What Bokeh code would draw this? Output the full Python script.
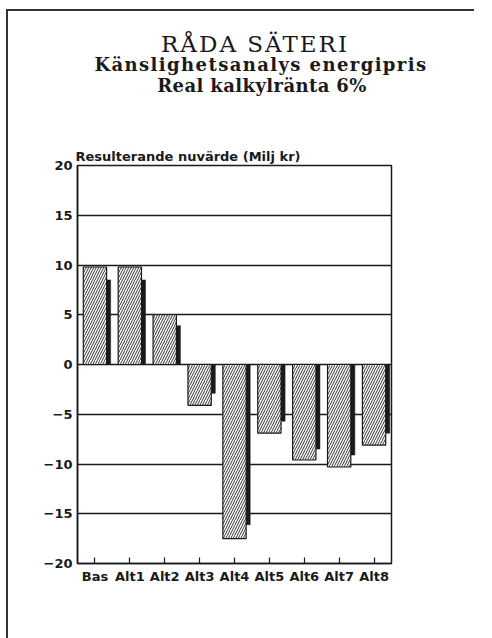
from bokeh.plotting import figure
from bokeh.models import Range1d, FixedTicker, ColumnDataSource, InlineStyleSheet, Div
from bokeh.layouts import column
from bokeh.transform import dodge
from bokeh.embed import file_html
from bokeh.resources import INLINE

# ---- data ----
categories = ["Bas", "Alt1", "Alt2", "Alt3", "Alt4", "Alt5", "Alt6", "Alt7", "Alt8"]
hatched_values = [9.8, 9.8, 5.0, -4.1, -17.5, -6.9, -9.6, -10.3, -8.1]
dark_values = [8.5, 8.5, 3.9, -2.9, -16.1, -5.7, -8.5, -9.1, -6.9]
y_ticks = [-20, -15, -10, -5, 0, 5, 10, 15, 20]

title_text = "RÅDA SÄTERI"
subtitle1 = "Känslighetsanalys energipris"
subtitle2 = "Real kalkylränta 6%"
axis_label = "Resulterande nuvärde (Milj kr)"

idx = list(range(len(categories)))
src = ColumnDataSource(dict(x=idx, h=hatched_values, d=dark_values))

INK = "#1a1a1a"

# ---- header (titles) ----
def line(text, left, top, size, family, weight, spacing, width=400):
    return (f'<div style="position:absolute;left:{left}px;top:{top}px;width:{width}px;'
            f'text-align:center;font-family:\'{family}\';font-size:{size}px;'
            f'font-weight:{weight};line-height:{size}px;letter-spacing:{spacing}px;'
            f'color:{INK};white-space:nowrap;">{text}</div>')

html = ('<div style="position:relative;width:492px;height:110px;">'
        + line(title_text, 55, 32.5, 23, "DejaVu Serif", "normal", 2.0)
        + line(subtitle1, 61, 56, 18, "DejaVu Serif", "bold", 1.4)
        + line(subtitle2, 62, 77, 18, "DejaVu Serif", "bold", 0.4)
        + '</div>')
header = Div(text=html, width=492, height=110, margin=0)

# ---- chart ----
p = figure(width=492, height=528, output_backend="svg", toolbar_location=None,
           x_range=Range1d(-0.5, 8.5), y_range=Range1d(-20, 20),
           min_border_left=77, min_border_right=101, min_border_top=55, min_border_bottom=75,
           background_fill_color="white", border_fill_color=None, margin=0)

p.title.text = axis_label
p.title.align = "left"
p.title.offset = -2
p.title.standoff = 4
p.title.text_font = "DejaVu Sans"
p.title.text_font_style = "bold"
p.title.text_font_size = "13px"
p.title.text_color = INK

p.xgrid.grid_line_color = None
p.ygrid.ticker = FixedTicker(ticks=y_ticks)
p.ygrid.grid_line_color = INK
p.ygrid.grid_line_width = 1.5

p.outline_line_color = INK
p.outline_line_width = 1.5

# dark series behind, hatched series on top
p.vbar(x=dodge("x", 0.325), top="d", bottom=0, width=0.25, source=src,
       fill_color=INK, line_color=INK, line_width=0.5)
p.vbar(x="x", top="h", bottom=0, width=0.668, source=src,
       fill_color="white", line_color=INK, line_width=1.2,
       hatch_pattern="/", hatch_color="#333333", hatch_scale=5, hatch_weight=1)

xa = p.xaxis[0]
xa.ticker = FixedTicker(ticks=idx)
xa.major_label_overrides = {i: c for i, c in zip(idx, categories)}
xa.major_tick_in = 6
xa.major_tick_out = 0
xa.major_tick_line_color = INK
xa.major_tick_line_width = 1.2
xa.minor_tick_line_color = None
xa.axis_line_color = INK
xa.axis_line_width = 1.5
xa.major_label_text_font = "DejaVu Sans"
xa.major_label_text_font_style = "bold"
xa.major_label_text_font_size = "13px"
xa.major_label_text_color = INK
xa.major_label_standoff = 5

ya = p.yaxis[0]
ya.ticker = FixedTicker(ticks=y_ticks)
ya.major_tick_in = 0
ya.major_tick_out = 0
ya.minor_tick_line_color = None
ya.axis_line_color = INK
ya.axis_line_width = 1.5
ya.major_label_text_font = "DejaVu Sans"
ya.major_label_text_font_style = "bold"
ya.major_label_text_font_size = "13px"
ya.major_label_text_color = INK
ya.major_label_standoff = 5

css = InlineStyleSheet(css="""
:host { position: relative; background: white; }
:host::after {
  content: ''; position: absolute; left: 6px; top: 9px; width: 466px; height: 640px;
  border-left: 2px solid #333; border-top: 2px solid #333; pointer-events: none;
}
""")

layout = column(header, p, spacing=0, margin=0)
layout.stylesheets = [css]

open("out.html", "w").write(file_html(layout, INLINE))
